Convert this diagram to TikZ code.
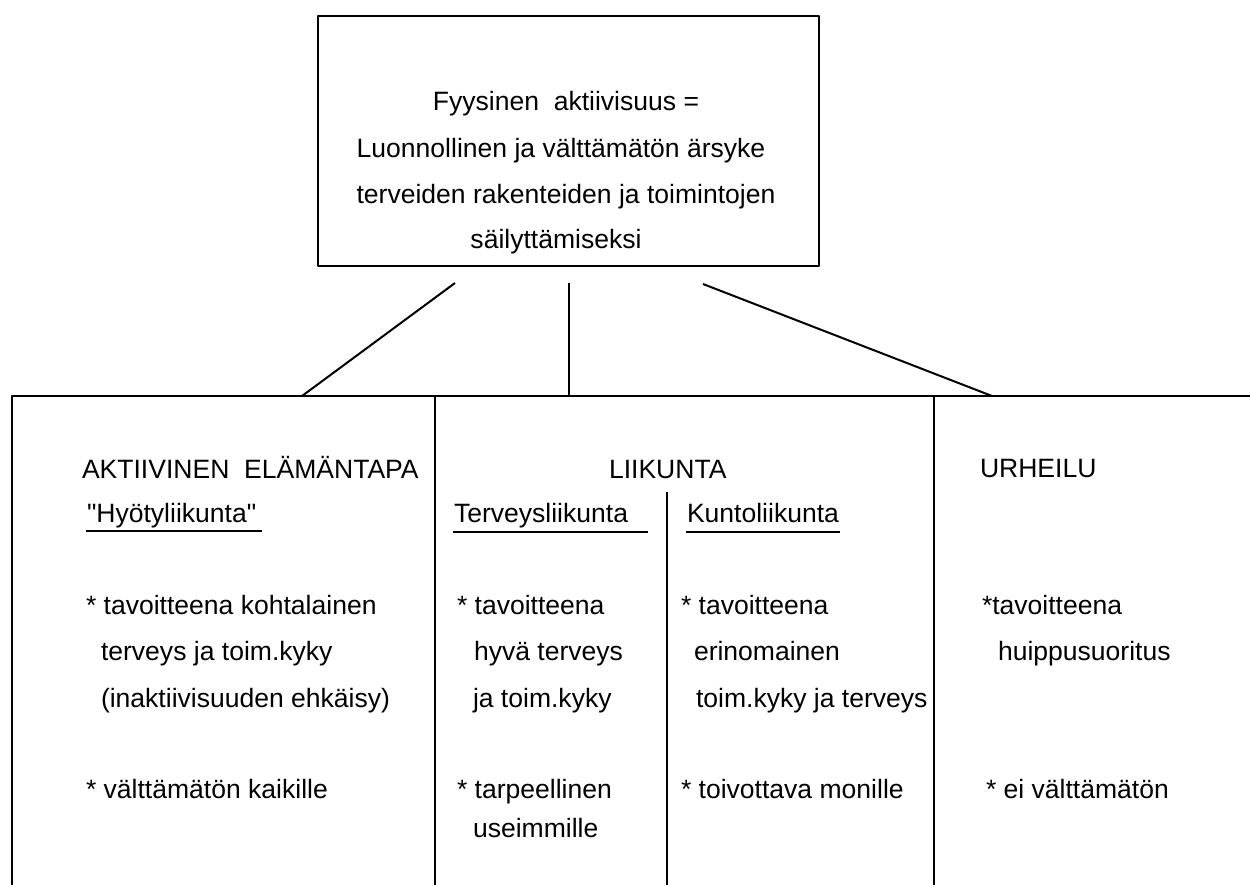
\documentclass[tikz,border=0pt]{standalone}
\usepackage{fontspec}
\setmainfont{Liberation Sans}
\tikzset{
	txt/.style = {anchor = base west, inner sep = 0pt, font = \fontsize{19.9}{23}\selectfont},
	ctxt/.style = {txt, anchor = base}
}
\begin{document}
\begin{tikzpicture}[line width = 1.5pt, line join=round, x=0.75pt, y=-0.75pt]
	\useasboundingbox (0,0) rectangle (1250,885);
	% Kasten oben
	\draw (318,16) rectangle (819,266);
	\node [ctxt] (fa1) at (566,110) {Fyysinen\ \ aktiivisuus =};
	\node [ctxt] (fa2) at (561,157) {Luonnollinen ja välttämätön ärsyke};
	\node [ctxt] (fa3) at (566,203) {terveiden rakenteiden ja toimintojen};
	\node [ctxt] (fa4) at (556,248) {säilyttämiseksi};
	% Verbindungen
	\coordinate (ol) at (455,283);
	\coordinate (om) at (569,283);
	\coordinate (or) at (703,284);
	\coordinate (ul) at (302,396);
	\coordinate (um) at (569,396);
	\coordinate (ur) at (992,396);
	\draw (ol) -- (ul);
	\draw (om) -- (um);
	\draw (or) -- (ur);
	% Spalten unten
	\draw (1250,396) -- (12,396) -- (12,885);
	\draw (435,396) -- (435,885);
	\draw (934,396) -- (934,885);
	\draw (667,492) -- (667,885);
	% Aktiivinen elämäntapa
	\node [txt] (ael) at (81,478) {AKTIIVINEN\ \ ELÄMÄNTAPA};
	\node [txt] (hyo) at (86,522) {\textquotedbl Hyötyliikunta\textquotedbl};
	\draw (hyo.base west) ++(0,9) -- ++(176,0);
	\node [txt] (ael1) at (85,614) {* tavoitteena kohtalainen};
	\node [txt] (ael2) at (100,660) {terveys ja toim.kyky};
	\node [txt] (ael3) at (100,707) {(inaktiivisuuden ehkäisy)};
	\node [txt] (ael4) at (85,798) {* välttämätön kaikille};
	% Liikunta
	\node [txt] (lii) at (608,478) {LIIKUNTA};
	\node [txt] (ter) at (453,522) {Terveysliikunta};
	\draw (ter.base west) ++(0,10) -- ++(195,0);
	\node [txt] (ter1) at (456,614) {* tavoitteena};
	\node [txt] (ter2) at (473,660) {hyvä terveys};
	\node [txt] (ter3) at (472,707) {ja toim.kyky};
	\node [txt] (ter4) at (456,798) {* tarpeellinen};
	\node [txt] (ter5) at (472,837) {useimmille};
	\node [txt] (kun) at (686,522) {Kuntoliikunta};
	\draw (kun.base west) ++(0,10) -- ++(154,0);
	\node [txt] (kun1) at (680,614) {* tavoitteena};
	\node [txt] (kun2) at (693,660) {erinomainen};
	\node [txt] (kun3) at (695,707) {toim.kyky ja terveys};
	\node [txt] (kun4) at (680,798) {* toivottava monille};
	% Urheilu
	\node [txt] (urh) at (979,477) {URHEILU};
	\node [txt] (urh1) at (981,614) {*tavoitteena};
	\node [txt] (urh2) at (997,660) {huippusuoritus};
	\node [txt] (urh3) at (985,798) {* ei välttämätön};
\end{tikzpicture}
\end{document}
